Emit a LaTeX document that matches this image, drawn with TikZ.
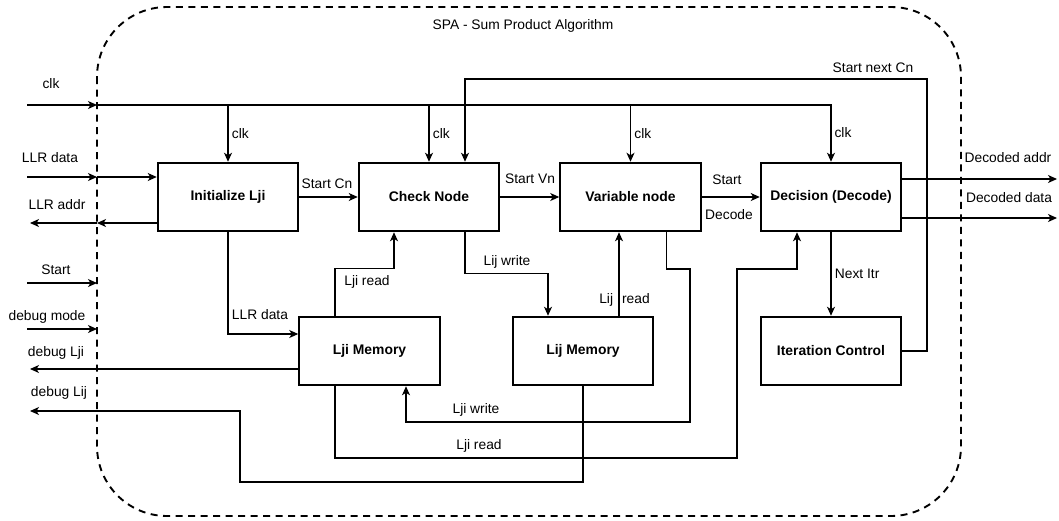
\documentclass[tikz,border=0pt]{standalone}
\usepackage{fontspec}
\setmainfont{Liberation Sans}
\usetikzlibrary{arrows.meta}

\begin{document}
\begin{tikzpicture}[
		x=1pt, y=-1pt,
		font=\fontsize{13.8}{16}\selectfont,
			block/.style = {
				draw,
				line width = 2pt,
				minimum width = 140.5pt,
				minimum height = 68.5pt,
				inner sep = 0pt,
				font = \fontsize{13.9}{16}\selectfont\bfseries
			},
			wire/.style = {
				line width = 1.2pt,
				-{Stealth[length=9pt,width=8pt,inset=2.5pt]}
			},
			edge/.style = {
				draw,
				dashed,
				line width = 1.9pt,
				dash pattern = on 7pt off 5.5pt,
				rounded corners = 70pt
			}
		]
		\useasboundingbox (0,0) rectangle (1059,520);
		\draw[edge] (97,7) rectangle (961,516);
		\node (title) at (523,26) {SPA - Sum Product Algorithm};

		\node[block] (init)   at (228,197)   {Initialize Lji};
		\node[block] (check)  at (429,197)   {Check Node};
		\node[block] (var)    at (630.5,197) {Variable node};
		\node[block] (dec)    at (831,197)   {Decision (Decode)};
		\node[block] (ljimem) at (369.5,351) {Lji Memory};
		\node[block] (lijmem) at (583,351)   {Lij Memory};
		\node[block] (itr)    at (831,351)   {Iteration Control};

		\coordinate (clkin)   at (27,105);
		\coordinate (clkb)    at (97,105);
		\coordinate (llrin)   at (27,177);
		\coordinate (llrb)    at (97,177);
		\coordinate (addrb)   at (97,223);
		\coordinate (addrout) at (30,223);
		\coordinate (startin) at (27,283);
		\coordinate (startb)  at (97,283);
		\coordinate (dbgin)   at (27,329);
		\coordinate (dbgb)    at (97,329);
		\coordinate (dljiout) at (30,369);
		\coordinate (dlijout) at (30,411);
		\coordinate (daddr)   at (1057,179);
		\coordinate (ddata)   at (1057,218);
		\coordinate (snc)     at (927,79);

		\node at (51,84)   {clk};
		\node at (50,158)  {LLR data};
		\node at (57,205)  {LLR addr};
		\node at (56,270)  {Start};
		\node at (47,317)  {debug mode};
		\node at (56,353)  {debug Lji};
		\node at (59,393)  {debug Lij};
		\node at (1008,158) {Decoded addr};
		\node at (1009,198) {Decoded data};

		\draw[wire] (clkin) -- (clkb);
		\draw[wire] (clkb) -| (dec.north);
		\draw[wire] (init.north |- clkb)  -- node[right] {clk} (init.north);
		\draw[wire] (check.north |- clkb) -- node[right] {clk} (check.north);
		\draw[wire] (var.north |- clkb)   -- node[right] {clk} (var.north);
		\node[right] at (dec.north |- 0,133) {clk};

		\draw[wire] (llrin) -- (llrb);
		\draw[wire] (llrb) -- (init.west |- llrb);
		\draw[wire] (init.west |- addrb) -- (addrb);
		\draw[wire] (addrb) -- (addrout);
		\draw[wire] (startin) -- (startb);
		\draw[wire] (dbgin) -- (dbgb);
		\draw[wire] (ljimem.west |- dljiout) -- (dljiout);
		\draw[wire] (lijmem.south) |- (240,482) |- (dlijout);

		\draw[wire] (init) -- (check);
		\node at (327,184) {Start Cn};
		\draw[wire] (check) -- (var);
		\node at (530,179) {Start Vn};
		\draw[wire] (var) -- (dec);
		\node at (727,180) {Start};
		\node at (729,215) {Decode};

		\draw[wire] ([yshift=18pt]dec.east) -- (daddr);
		\draw[wire] ([yshift=-21pt]dec.east) -- (ddata);

		\draw[wire] (itr.east) -| (snc) -| ([xshift=36pt]check.north);
		\node at (873,68) {Start next Cn};
		\draw[wire] (dec.south) -- node[right] {Next Itr} (itr.north);

		\draw[wire] (init.south) |- ([yshift=17pt]ljimem.west);
		\node at (260,315) {LLR data};
		\draw[wire] ([xshift=-34.5pt]ljimem.north) -- ++(0,-47) -| ([xshift=-35pt]check.south);
		\node at (367,282) {Lji read};
		\draw[wire] ([xshift=36pt]check.south) -- ++(0,41) -| ([xshift=-35pt]lijmem.north);
		\node at (507,262) {Lij write};
		\draw[wire] ([xshift=36pt]lijmem.north) -- ([xshift=-11.5pt]var.south);
		\node at (624.5,300) {Lij\hspace{9pt}read};
		\draw[wire] ([xshift=36pt]var.south) |- (690,269) |- (406,422) -- ([xshift=36.5pt]ljimem.south);
		\node at (476,410) {Lji write};
		\draw[wire] ([xshift=-34.5pt]ljimem.south) |- (737,458) |- (797,269) -- ([xshift=-34pt]dec.south);
		\node at (479,446) {Lji read};
	\end{tikzpicture}
\end{document}
